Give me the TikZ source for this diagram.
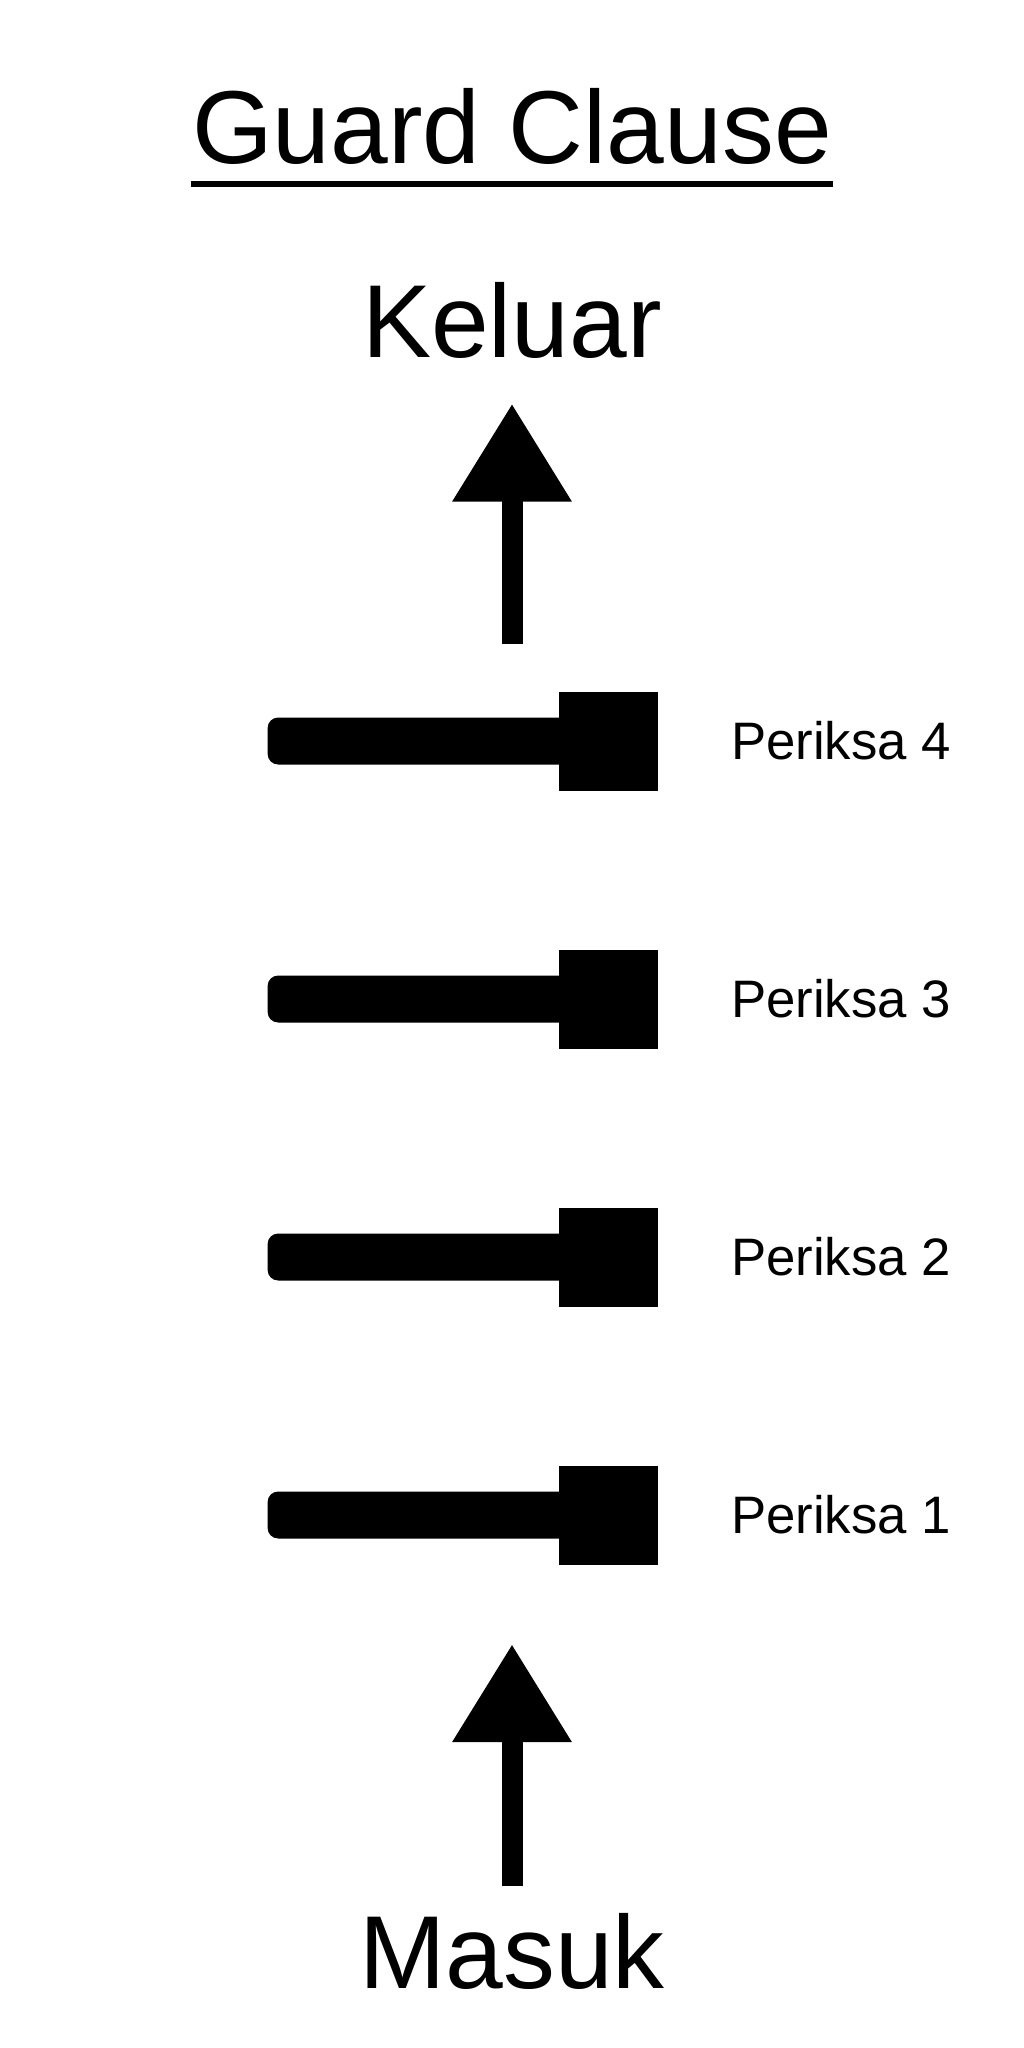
\documentclass[tikz,border=0pt]{standalone}
\usepackage{fontspec}
\setmainfont{Liberation Sans}
\usepackage{xcolor}
\usepackage{tikz}
\usetikzlibrary{arrows.meta,positioning}
\definecolor{guardblack}{HTML}{000000}

\begin{document}
\begin{tikzpicture}[
  gate/.style={rectangle,fill=guardblack,minimum size=0.99cm,inner sep=0pt},
  rod/.style={rectangle,fill=guardblack,rounded corners=3pt,
    minimum width=3.11cm,minimum height=0.47cm,inner sep=0pt},
  lbl/.style={inner sep=0pt,font=\fontsize{15}{18}\selectfont},
  big/.style={inner sep=0pt,font=\fontsize{29.5}{34}\selectfont},
  arr/.style={-{Triangle[width=1.14cm,length=0.98cm]},line width=0.21cm,guardblack}]

  \useasboundingbox (0,0) rectangle (10.24,-20.48);
  \coordinate (lblx) at (8.41,0);

  \node[big,anchor=base] (title) at (5.12,-1.63) {Guard Clause};
  \draw[line width=0.065cm] ([yshift=-0.21cm]title.base west) -- ([yshift=-0.21cm]title.base east);
  \node[big,anchor=base] (keluar) at (5.12,-3.57) {Keluar};
  \node[big,anchor=base] (masuk) at (5.12,-19.88) {Masuk};

  \foreach \i in {1,...,4} {
    \node[gate] (sq\i) at (6.085,{-15.15+(\i-1)*2.58}) {};
    \node[rod,left=-0.21cm of sq\i] (rod\i) {};
    \node[lbl] (chk\i) at (sq\i -| lblx) {Periksa \i};
  }

  \draw[arr,shorten <=0.26cm,shorten >=0.79cm] (masuk.north) -- (masuk.north |- sq1.south);
  \draw[arr,shorten <=0.47cm,shorten >=0.45cm] (keluar.south |- sq4.north) -- (keluar.south);
\end{tikzpicture}
\end{document}
